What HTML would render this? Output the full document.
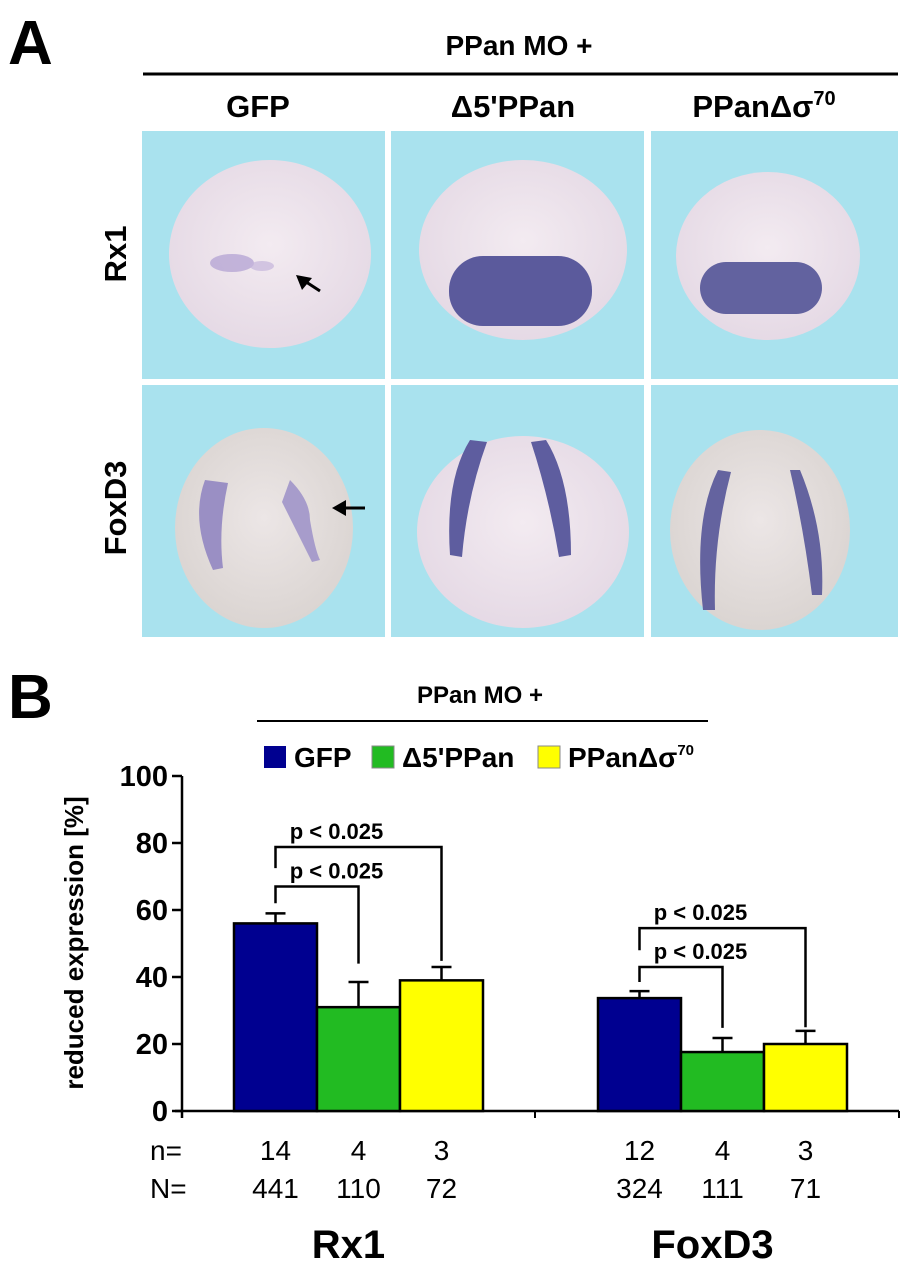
<!DOCTYPE html>
<html><head><meta charset="utf-8"><style>
html,body{margin:0;padding:0;background:#fff;}
svg{display:block;}
text{font-family:"Liberation Sans Narrow","Liberation Sans",sans-serif;}
.b{font-family:"Liberation Sans",sans-serif;font-weight:bold;}
</style></head><body>
<svg id="fig" width="904" height="1280" viewBox="0 0 904 1280" xmlns="http://www.w3.org/2000/svg">
<defs>
<radialGradient id="emb" cx="50%" cy="45%" r="60%"><stop offset="0" stop-color="#f3ebf1"/><stop offset="1" stop-color="#e4d8e4"/></radialGradient>
<radialGradient id="emb2" cx="50%" cy="45%" r="60%"><stop offset="0" stop-color="#ece6e6"/><stop offset="1" stop-color="#d9d3d0"/></radialGradient>
</defs>
<g>
<text class="b" x="8" y="64" font-size="62">A</text>
<text class="b" x="519" y="55" font-size="28" text-anchor="middle">PPan MO +</text>
<line x1="143" y1="74" x2="898" y2="74" stroke="#000" stroke-width="3"/>
<text class="b" x="258" y="117" font-size="31" text-anchor="middle">GFP</text>
<text class="b" x="513" y="117" font-size="31" text-anchor="middle">Δ5'PPan</text>
<text class="b" x="764" y="117" font-size="31" text-anchor="middle">PPanΔσ<tspan font-size="20" dy="-12">70</tspan></text>
<text class="b" font-size="31" text-anchor="middle" transform="translate(126,254) rotate(-90)">Rx1</text>
<text class="b" font-size="31" text-anchor="middle" transform="translate(126,508) rotate(-90)">FoxD3</text>
<g fill="#a9e2ee">
<rect x="142" y="131" width="243" height="248"/>
<rect x="391" y="131" width="253" height="248"/>
<rect x="651" y="131" width="247" height="248"/>
<rect x="142" y="385" width="243" height="252"/>
<rect x="391" y="385" width="253" height="252"/>
<rect x="651" y="385" width="247" height="252"/>
</g>
<ellipse cx="270" cy="254" rx="101" ry="94" fill="url(#emb)"/>
<ellipse cx="232" cy="263" rx="22" ry="9" fill="#b7a6d4" opacity="0.8"/>
<ellipse cx="262" cy="266" rx="12" ry="5" fill="#c5b5dc" opacity="0.7"/>
<path d="M320 291 L300 278" stroke="#000" stroke-width="3" fill="none"/>
<polygon points="296,275 312,278 302,290" fill="#000"/>
<ellipse cx="523" cy="250" rx="104" ry="90" fill="url(#emb)"/>
<rect x="449" y="256" width="143" height="70" rx="34" fill="#5b5a9c"/>
<ellipse cx="768" cy="256" rx="92" ry="84" fill="url(#emb)"/>
<rect x="700" y="262" width="122" height="52" rx="26" fill="#62629f"/>
<ellipse cx="264" cy="528" rx="89" ry="100" fill="url(#emb2)"/>
<path d="M205 480 q-15 40 8 90 l10 -2 q-5 -40 5 -85 z" fill="#9a8fc4"/>
<path d="M290 480 q20 20 20 40 q5 30 10 40 l-8 2 q-10 -20 -30 -60 z" fill="#a79ccb"/>
<polygon points="332,508 346,500 346,516" fill="#000"/>
<line x1="344" y1="508" x2="365" y2="508" stroke="#000" stroke-width="3"/>
<ellipse cx="523" cy="532" rx="106" ry="96" fill="url(#emb)"/>
<path d="M470 440 q-25 40 -20 115 l12 2 q5 -60 25 -115 z" fill="#5e5d9f"/>
<path d="M546 440 q25 40 25 115 l-12 2 q-10 -60 -28 -115 z" fill="#5e5d9f"/>
<ellipse cx="760" cy="530" rx="90" ry="100" fill="url(#emb2)"/>
<path d="M718 470 q-25 50 -15 140 l12 0 q-2 -70 16 -138 z" fill="#64639f"/>
<path d="M800 470 q25 60 22 125 l-10 0 q-8 -65 -22 -125 z" fill="#64639f"/>
</g>
<g id="chart">
<text class="b" x="8" y="718" font-size="62">B</text>
<text class="b" x="480" y="703" font-size="24" text-anchor="middle">PPan MO +</text>
<line x1="257" y1="721" x2="708" y2="721" stroke="#000" stroke-width="2"/>
<text class="b" font-size="26" text-anchor="middle" transform="translate(83,943) rotate(-90)">reduced expression [%]</text>
</g>
</svg>
<script>
var categories=["Rx1","FoxD3"];
var seriesNames=["GFP","Δ5'PPan","PPanΔσ"];
var seriesColors=["#000090","#22bb22","#ffff00"];
var gfpValues=[56,33.7];
var d5Values=[31,17.6];
var ds70Values=[39,20];
var gfpErr=[59,35.8];
var d5Err=[38.5,21.8];
var ds70Err=[43,23.9];
var yTicks=[0,20,40,60,80,100];
var nValues=[[14,4,3],[12,4,3]];
var NValues=[[441,110,72],[324,111,71]];
var ns="http://www.w3.org/2000/svg";
var g=document.getElementById('chart');
function y(v){return 1111-v*3.35;}
var groupLeft=[234,598], barW=83;
function bx(c,s){return groupLeft[c]+s*barW;}
function mk(t,a,txt){var e=document.createElementNS(ns,t);for(var k in a)e.setAttribute(k,a[k]);if(txt!==undefined)e.textContent=txt;g.appendChild(e);return e;}
var ax=mk('line',{x1:182,y1:y(100),x2:182,y2:1118,stroke:'#000','stroke-width':2.5});


var xa=mk('line',{x1:175,y1:y(0),x2:899,y2:y(0),stroke:'#000','stroke-width':2.5});


[535,899].forEach(function(x){var t=mk('line',{x1:x,y1:y(0),x2:x,y2:1118,stroke:'#000','stroke-width':2});

});
yTicks.forEach(function(v){
var t=mk('line',{x1:172,y1:y(v),x2:182,y2:y(v),stroke:'#000','stroke-width':2.5});


var l=mk('text',{x:168,y:y(v)+10,'font-size':29,'font-weight':'bold','text-anchor':'end'},String(v));


});
var vals=[gfpValues,d5Values,ds70Values], errs=[gfpErr,d5Err,ds70Err];
for(var c=0;c<2;c++){for(var s=0;s<3;s++){
var x0=bx(c,s), cx=x0+barW/2;
var el=mk('line',{x1:cx,y1:y(vals[s][c]),x2:cx,y2:y(errs[s][c]),stroke:'#000','stroke-width':2.5});


mk('line',{x1:cx-10,y1:y(errs[s][c]),x2:cx+10,y2:y(errs[s][c]),stroke:'#000','stroke-width':2.5});
var r=mk('rect',{x:x0,y:y(vals[s][c]),width:barW,height:y(0)-y(vals[s][c]),fill:seriesColors[s],stroke:'#000','stroke-width':2.5});


var n=mk('text',{x:cx,y:1160,'font-size':28,'text-anchor':'middle'},String(nValues[c][s]));


var N=mk('text',{x:cx,y:1198,'font-size':28,'text-anchor':'middle'},String(NValues[c][s]));


}
var cl=mk('text',{x:groupLeft[c]+barW*1.5-10,y:1258,'font-size':40,'font-weight':'bold','text-anchor':'middle'},categories[c]);


}
var nl=mk('text',{x:150,y:1160,'font-size':28},'n=');


var Nl=mk('text',{x:150,y:1198,'font-size':28},'N=');


var brackets=[[0,2,78.8,72.5,44.8],[0,1,67,62,44],[1,2,54.6,48,25],[1,1,43,38.5,24.8]];
brackets.forEach(function(b){
var xl=bx(b[0],0)+barW/2, xr=bx(b[0],b[1])+barW/2;
var p=mk('polyline',{points:xl+','+y(b[3])+' '+xl+','+y(b[2])+' '+xr+','+y(b[2])+' '+xr+','+y(b[4]),fill:'none',stroke:'#000','stroke-width':2.5});


var t=mk('text',{x:xl+61,y:y(b[2])-8,'font-size':22,'font-weight':'bold','text-anchor':'middle'},'p < 0.025');


});
var lx=[264,372,538], tx=[294,402,568];
for(var i=0;i<3;i++){
var sw=mk('rect',{x:lx[i],y:746,width:22,height:22,fill:seriesColors[i],stroke:i==0?'none':'#888','stroke-width':1});


var lt=mk('text',{x:tx[i],y:767,'font-size':28,'font-weight':'bold'},seriesNames[i]);


if(i==2){var sp=document.createElementNS(ns,'tspan');sp.setAttribute('font-size','15');sp.setAttribute('dy','-12');sp.textContent='70';lt.appendChild(sp);}
}
</script>
</body></html>
